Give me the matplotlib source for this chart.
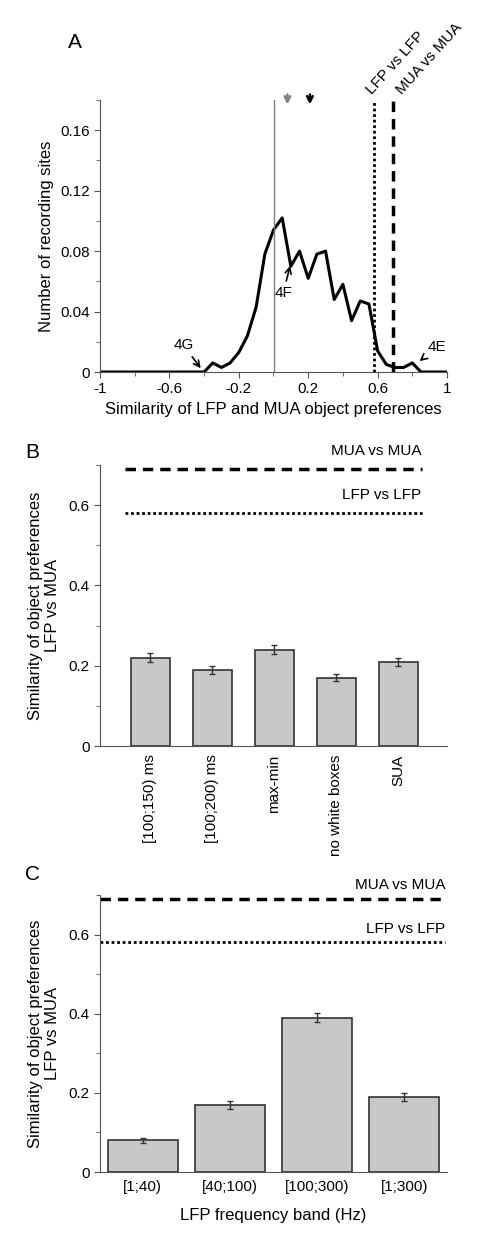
import matplotlib

matplotlib.use("Agg")
import matplotlib.pyplot as plt
import numpy as np

plt.rcParams["font.family"] = ["Liberation Sans", "DejaVu Sans"]

# --- panel A: distribution of similarity values ---
hist_x = [-1.0, -0.40, -0.35, -0.30, -0.25, -0.20, -0.15, -0.10, -0.05, 0.0, 0.05,
          0.10, 0.15, 0.20, 0.25, 0.30, 0.35, 0.40, 0.45, 0.50, 0.55, 0.60,
          0.65, 0.70, 0.75, 0.80, 0.85, 1.0]
hist_y = [0, 0, 0.006, 0.003, 0.006, 0.013, 0.024, 0.043, 0.078, 0.094, 0.102,
          0.070, 0.080, 0.062, 0.078, 0.080, 0.048, 0.058, 0.034, 0.047, 0.045, 0.014,
          0.005, 0.003, 0.003, 0.006, 0, 0]
lfp_vs_lfp = 0.58
mua_vs_mua = 0.69
arrow_gray = 0.08
arrow_black = 0.21

# --- panel B: control analyses ---
b_labels = ["[100;150) ms", "[100;200) ms", "max-min", "no white boxes", "SUA"]
b_vals = [0.22, 0.19, 0.24, 0.17, 0.21]
b_err = [0.011, 0.010, 0.011, 0.009, 0.010]

# --- panel C: LFP frequency bands ---
c_labels = ["[1;40)", "[40;100)", "[100;300)", "[1;300)"]
c_vals = [0.08, 0.17, 0.39, 0.19]
c_err = [0.006, 0.010, 0.012, 0.010]

W, H = 496, 1256
fig = plt.figure(figsize=(W / 100, H / 100), dpi=100)


def px_axes(l, t, r, b):
    return fig.add_axes([l / W, 1 - b / H, (r - l) / W, (b - t) / H])


def style(ax):
    for s in ("top", "right"):
        ax.spines[s].set_visible(False)
    ax.spines["left"].set_color("#555555")
    ax.spines["bottom"].set_color("#555555")
    ax.tick_params(labelsize=11, length=4, color="#555555")
    ax.tick_params(which="minor", length=3, color="#555555")


def bar_axis(ax):
    ax.set_ylim(0, 0.7)
    ax.set_yticks([0, 0.2, 0.4, 0.6])
    ax.set_yticklabels(["0", "0.2", "0.4", "0.6"])
    ax.set_yticks([0.1, 0.3, 0.5, 0.7], minor=True)
    ax.tick_params(axis="x", length=0, pad=6)
    ax.set_ylabel("Similarity of object preferences\nLFP vs MUA", fontsize=12,
                  labelpad=6)


# A
ax = px_axes(100, 100, 447, 372)
style(ax)
ax.plot(hist_x, hist_y, color="black", lw=2.2)
ax.axvline(0, color="gray", lw=1)
ax.axvline(lfp_vs_lfp, color="black", ls=(0, (1, 1)), lw=2)
ax.axvline(mua_vs_mua, color="black", ls=(0, (3, 2)), lw=2.5)
ax.set_xlim(-1, 1)
ax.set_ylim(0, 0.18)
ax.set_xticks(np.arange(-1, 1.01, 0.4))
ax.set_xticklabels(["-1", "-0.6", "-0.2", "0.2", "0.6", "1"])
ax.set_xticks(np.arange(-1, 1.01, 0.2), minor=True)
ax.set_yticks([0, 0.04, 0.08, 0.12, 0.16])
ax.set_yticklabels(["0", "0.04", "0.08", "0.12", "0.16"])
ax.set_yticks(np.arange(0, 0.181, 0.02), minor=True)
ax.set_xlabel("Similarity of LFP and MUA object preferences", fontsize=12)
ax.set_ylabel("Number of recording sites", fontsize=12)
for xv, col in ((arrow_gray, "gray"), (arrow_black, "black")):
    ax.annotate("", xy=(xv, 0.1752), xytext=(xv, 0.1855), annotation_clip=False,
                arrowprops=dict(arrowstyle="->", color=col, lw=1.8))
ax.text(0.568, 0.183, "LFP vs LFP", rotation=48, fontsize=11,
        ha="left", va="baseline", rotation_mode="anchor")
ax.text(0.741, 0.183, "MUA vs MUA", rotation=48, fontsize=11,
        ha="left", va="baseline", rotation_mode="anchor")
ax.annotate("4G", xy=(-0.41, 0.001), xytext=(-0.52, 0.018), fontsize=11,
            arrowprops=dict(arrowstyle="->", lw=1.2), ha="center", va="center")
ax.annotate("4F", xy=(0.1, 0.072), xytext=(0.055, 0.052), fontsize=11,
            arrowprops=dict(arrowstyle="->", lw=1.2), ha="center", va="center")
ax.annotate("4E", xy=(0.83, 0.006), xytext=(0.94, 0.0165), fontsize=11,
            arrowprops=dict(arrowstyle="->", lw=1.2), ha="center", va="center")
fig.text(75 / W, 1 - 42 / H, "A", fontsize=15, ha="center", va="center")

# B
ax = px_axes(100, 465, 447, 746)
style(ax)
xb = np.arange(len(b_vals))
ax.bar(xb, b_vals, width=0.63, color="#c8c8c8", edgecolor="#333333", lw=1.2,
       yerr=b_err, capsize=2.5, error_kw=dict(lw=1, ecolor="#333333"))
ax.hlines(mua_vs_mua, -0.4, 4.39, color="black", ls=(0, (3, 2)), lw=2.5)
ax.hlines(lfp_vs_lfp, -0.4, 4.39, color="black", ls=(0, (1, 1)), lw=2)
ax.text(4.38, mua_vs_mua + 0.045, "MUA vs MUA", fontsize=11, ha="right", va="center")
ax.text(4.38, lfp_vs_lfp + 0.045, "LFP vs LFP", fontsize=11, ha="right", va="center")
ax.set_xlim(-0.81, 4.79)
ax.set_xticks(xb)
ax.set_xticklabels(b_labels, rotation=90, fontsize=11)
bar_axis(ax)
fig.text(32 / W, 1 - 452 / H, "B", fontsize=15, ha="center", va="center")

# C
ax = px_axes(100, 895, 447, 1172)
style(ax)
xc = np.arange(len(c_vals))
ax.bar(xc, c_vals, width=0.8, color="#c8c8c8", edgecolor="#333333", lw=1.2,
       yerr=c_err, capsize=2.5, error_kw=dict(lw=1, ecolor="#333333"))
ax.hlines(mua_vs_mua, -0.49, 3.47, color="black", ls=(0, (3, 2)), lw=2.5)
ax.hlines(lfp_vs_lfp, -0.49, 3.47, color="black", ls=(0, (1, 1)), lw=2)
ax.text(3.47, mua_vs_mua + 0.035, "MUA vs MUA", fontsize=11, ha="right", va="center")
ax.text(3.47, lfp_vs_lfp + 0.035, "LFP vs LFP", fontsize=11, ha="right", va="center")
ax.set_xlim(-0.49, 3.49)
ax.set_xticks(xc)
ax.set_xticklabels(c_labels, fontsize=11)
bar_axis(ax)
ax.set_xlabel("LFP frequency band (Hz)", fontsize=12, labelpad=10)
fig.text(32 / W, 1 - 875 / H, "C", fontsize=15, ha="center", va="center")

fig.savefig("out.png", dpi=100)
